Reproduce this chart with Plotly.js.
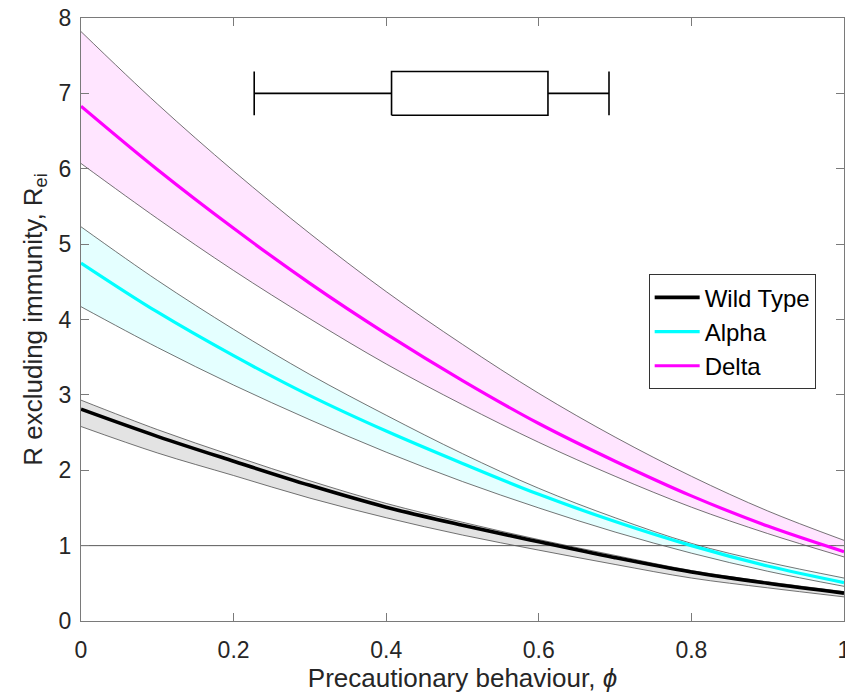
<!DOCTYPE html>
<html>
<head>
<meta charset="utf-8">
<script src="https://cdn.plot.ly/plotly-3.0.1.min.js"></script>
<style>
  html, body { margin: 0; padding: 0; background: #fff; }
  #chart { width: 845px; height: 693px; }
</style>
</head>
<body>
<div id="chart"></div>
<script>
// ---- data ----
const phi = [0, 0.1, 0.2, 0.3, 0.4, 0.5, 0.6, 0.7, 0.8, 0.9, 1.0];

const wildCentre  = [2.81, 2.45, 2.12, 1.80, 1.51, 1.27, 1.05, 0.84, 0.65, 0.50, 0.37];
const wildUpper   = [2.93, 2.54, 2.19, 1.86, 1.56, 1.31, 1.08, 0.87, 0.67, 0.52, 0.39];
const wildLower   = [2.58, 2.23, 1.93, 1.63, 1.37, 1.14, 0.94, 0.75, 0.57, 0.44, 0.32];

const alphaCentre = [4.75, 4.10, 3.52, 2.99, 2.52, 2.09, 1.68, 1.32, 1.00, 0.73, 0.51];
const alphaUpper  = [5.23, 4.52, 3.87, 3.27, 2.73, 2.22, 1.76, 1.37, 1.03, 0.78, 0.57];
const alphaLower  = [4.17, 3.63, 3.13, 2.67, 2.24, 1.85, 1.50, 1.18, 0.90, 0.66, 0.46];

const deltaCentre = [6.83, 5.99, 5.21, 4.48, 3.81, 3.19, 2.62, 2.12, 1.66, 1.26, 0.92];
const deltaUpper  = [7.82, 6.86, 5.97, 5.14, 4.37, 3.67, 3.02, 2.44, 1.92, 1.46, 1.07];
const deltaLower  = [6.07, 5.34, 4.65, 4.01, 3.41, 2.87, 2.37, 1.92, 1.51, 1.16, 0.85];

const seriesNames = ['Wild Type', 'Alpha', 'Delta'];

// box-plot summary of phi: [lower whisker, Q1, Q3, upper whisker]
const boxStats = [0.227, 0.407, 0.612, 0.692];
const thresholdR = 1;

const xTickVals = [0, 0.2, 0.4, 0.6, 0.8, 1];
const xTickText = ['0', '0.2', '0.4', '0.6', '0.8', '1'];

// ---- styling ----
const boxLevel = 7, boxHalf = 0.29;
const font = 'Liberation Sans, Arial, Helvetica, sans-serif';
const edge = {color: '#3a3a3a', width: 0.7, shape: 'spline'};

function band(upper, lower, fill) {
  return [
    {x: phi, y: upper, type: 'scatter', mode: 'lines', line: edge,
     showlegend: false, hoverinfo: 'skip'},
    {x: phi, y: lower, type: 'scatter', mode: 'lines', line: edge,
     fill: 'tonexty', fillcolor: fill, showlegend: false, hoverinfo: 'skip'}
  ];
}

const traces = [];
traces.push(...band(wildUpper, wildLower, 'rgb(227,227,227)'));
traces.push(...band(alphaUpper, alphaLower, 'rgb(228,255,255)'));
traces.push(...band(deltaUpper, deltaLower, 'rgb(255,229,255)'));

// threshold line R = 1
traces.push({x: [phi[0], phi[phi.length - 1]], y: [thresholdR, thresholdR],
  type: 'scatter', mode: 'lines', line: {color: '#5a5a5a', width: 1},
  showlegend: false, hoverinfo: 'skip'});

// centre lines
traces.push({x: phi, y: wildCentre, name: seriesNames[0], type: 'scatter', mode: 'lines',
  line: {color: '#000000', width: 3.6, shape: 'spline'}});
traces.push({x: phi, y: alphaCentre, name: seriesNames[1], type: 'scatter', mode: 'lines',
  line: {color: '#00ffff', width: 3.2, shape: 'spline'}});
traces.push({x: phi, y: deltaCentre, name: seriesNames[2], type: 'scatter', mode: 'lines',
  line: {color: '#ff00ff', width: 3.2, shape: 'spline'}});

// box plot of phi drawn from boxStats
const [lo, q1, q3, hi] = boxStats;
const boxLine = {color: '#000', width: 1.6};
const boxX = [lo, q1, null, q3, hi, null, lo, lo, null, hi, hi, null, q1, q3, q3, q1, q1];
const boxY = [boxLevel, boxLevel, null, boxLevel, boxLevel, null,
              boxLevel - boxHalf, boxLevel + boxHalf, null,
              boxLevel - boxHalf, boxLevel + boxHalf, null,
              boxLevel - boxHalf, boxLevel - boxHalf, boxLevel + boxHalf, boxLevel + boxHalf, boxLevel - boxHalf];
traces.push({x: boxX, y: boxY, type: 'scatter', mode: 'lines', line: boxLine,
  showlegend: false, hoverinfo: 'skip', connectgaps: false});

const axisCommon = {
  showgrid: false, zeroline: false, showline: true, linecolor: '#7a7a7a', linewidth: 1,
  mirror: 'ticks', ticks: 'inside', ticklen: 8, tickcolor: '#7a7a7a', tickwidth: 1,
  tickfont: {family: font, size: 23, color: '#262626'}, automargin: false,
  ticklabeloverflow: 'allow'
};

const layout = {
  width: 845, height: 693,
  margin: {l: 81, r: 1, t: 18, b: 72},
  paper_bgcolor: '#fff', plot_bgcolor: '#fff',
  showlegend: true,
  xaxis: Object.assign({}, axisCommon, {
    range: [0, 1], tickvals: xTickVals, ticktext: xTickText,
    ticklabelstandoff: 8,
    title: {text: 'Precautionary behaviour, <i>ϕ</i>', font: {family: font, size: 26, color: '#262626'}, standoff: 6}
  }),
  yaxis: Object.assign({}, axisCommon, {
    range: [0, 8], dtick: 1, tick0: 0, ticklabelstandoff: 4,
    title: {text: 'R excluding immunity, R<sub>ei</sub>', font: {family: font, size: 26, color: '#262626'}, standoff: 8}
  }),
  legend: {
    x: 0.744, y: 0.575, xanchor: 'left', yanchor: 'top',
    bgcolor: '#fff', bordercolor: '#333', borderwidth: 1,
    font: {family: font, size: 24, color: '#000'},
    traceorder: 'normal', tracegroupgap: 0, itemwidth: 45
  }
};

Plotly.newPlot('chart', traces, layout, {displayModeBar: false, staticPlot: true});
</script>
</body>
</html>
